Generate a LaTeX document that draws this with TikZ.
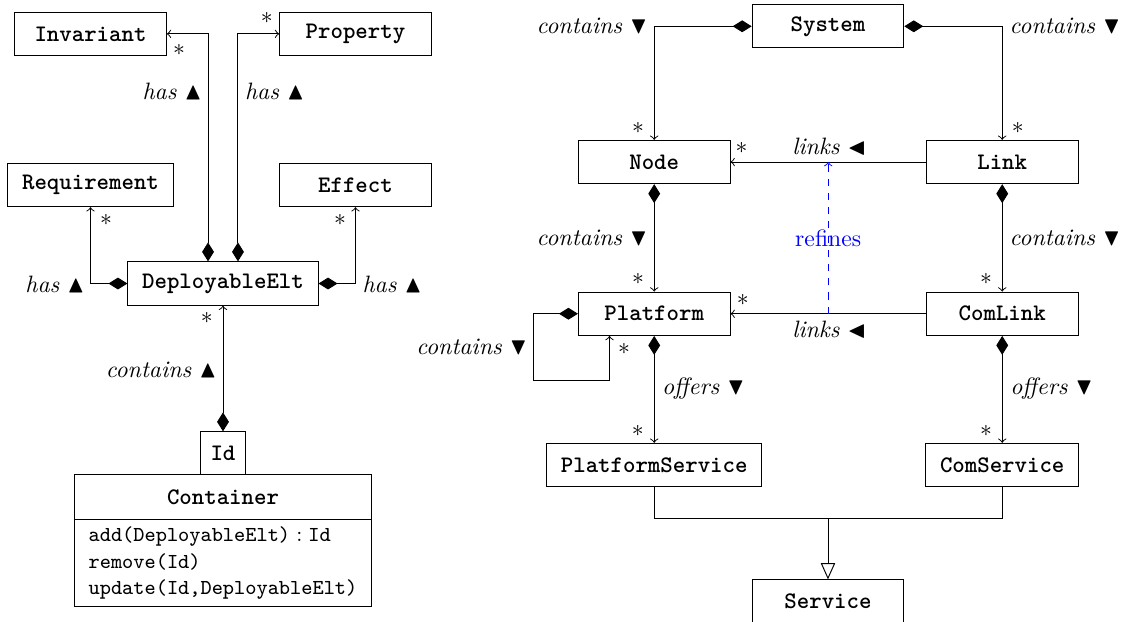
\documentclass[tikz,border=0pt]{standalone}
\usepackage{amsmath}
\usepackage{amssymb}
\usetikzlibrary{arrows.meta}

\tikzset{
  cls/.style={draw, font=\ttfamily\bfseries, minimum width=64pt, minimum height=18.3pt, inner xsep=6pt},
  compo/.style={arrows={Diamond[length=8pt,width=5pt]-to}},
  assoc/.style={-to},
  gener/.style={arrows={-Triangle[open,length=6.8pt,width=6pt]}},
  refine/.style={dashed, blue, -to},
  lbl/.style={inner sep=0pt},
}

\begin{document}
\begin{tikzpicture}
    \useasboundingbox (0,0) rectangle (16.684,9.210);

    % deployable elements
    \node[cls] (inv) at (1.342,8.708) {Invariant};
    \node[cls] (prop) at (5.272,8.708) {Property};
    \node[cls] (req) at (1.342,6.466) {Requirement};
    \node[cls] (eff) at (5.272,6.466) {Effect};
    \node[cls] (dep) at (3.307,5.005) {DeployableElt};
    \node[cls, minimum width=125.7pt, minimum height=18.8pt, outer sep=0pt, anchor=north] (cont) at (3.307,2.170) {Container};
    \node[cls, minimum width=0pt, inner xsep=4.4pt, outer sep=0pt, anchor=south] (id) at (cont.north) {Id};
    \node[draw, font=\small\ttfamily, align=left, minimum width=125.7pt, inner xsep=6pt, outer sep=0pt, anchor=north] (ops) at (cont.south)
        {add(DeployableElt)${}:{}$Id\\remove(Id)\\update(Id,DeployableElt)};

    \draw[compo] ([xshift=-0.222cm]dep.north) |- (inv.east);
    \draw[compo] ([xshift=0.222cm]dep.north) |- (prop.west);
    \draw[compo] (dep.west) -| (req.south);
    \draw[compo] (dep.east) -| (eff.south);
    \draw[compo] (id.north) -- (dep.south);

    \node[lbl] (hasinv) at (2.554,7.850) {\textit{has} $\blacktriangle$};
    \node[lbl] (hasprop) at (4.074,7.850) {\textit{has} $\blacktriangle$};
    \node[lbl] (hasreq) at (0.816,4.998) {\textit{has} $\blacktriangle$};
    \node[lbl] (haseff) at (5.816,4.998) {\textit{has} $\blacktriangle$};
    \node[lbl] (contdep) at (2.391,3.722) {\textit{contains} $\blacktriangle$};
    \node[lbl] (minv) at (2.655,8.468) {$*$};
    \node[lbl] (mprop) at (3.955,8.938) {$*$};
    \node[lbl] (mreq) at (1.572,5.947) {$*$};
    \node[lbl] (meff) at (5.042,5.947) {$*$};
    \node[lbl] (mdep) at (3.065,4.489) {$*$};

    % system
    \node[cls] (sys) at (12.279,8.820) {System};
    \node[cls] (node) at (9.702,6.807) {Node};
    \node[cls] (link) at (14.863,6.807) {Link};
    \node[cls] (plat) at (9.702,4.557) {Platform};
    \node[cls] (clink) at (14.863,4.557) {ComLink};
    \node[cls] (ps) at (9.702,2.314) {PlatformService};
    \node[cls] (cs) at (14.863,2.314) {ComService};
    \node[cls, anchor=north] (serv) at (12.279,0.618) {Service};

    \draw[compo] (sys.west) -| (node.north);
    \draw[compo] (sys.east) -| (link.north);
    \draw[assoc] (link.west) -- coordinate (m1) (node.east);
    \draw[assoc] (clink.west) -- coordinate (m2) (plat.east);
    \draw[compo] (node.south) -- (plat.north);
    \draw[compo] (link.south) -- (clink.north);
    \draw[compo] (plat.west) -- ++(-0.663,0) |- ([xshift=-0.663cm,yshift=-0.667cm]plat.south) -- ([xshift=-0.663cm]plat.south);
    \draw[compo] (plat.south) -- (ps.north);
    \draw[compo] (clink.south) -- (cs.north);
    \coordinate (j) at (12.279,1.523);
    \draw (ps.south) |- (j) -| (cs.south);
    \draw[gener] (j) -- (serv.north);
    \draw[refine] (m2) -- node (rf) {refines} (m1);

    \node[lbl] (consn) at (8.779,8.824) {\textit{contains} $\blacktriangledown$};
    \node[lbl] (consl) at (15.794,8.829) {\textit{contains} $\blacktriangledown$};
    \node[lbl] (conplat) at (8.779,5.676) {\textit{contains} $\blacktriangledown$};
    \node[lbl] (concl) at (15.794,5.676) {\textit{contains} $\blacktriangledown$};
    \node[lbl] (conloop) at (6.995,4.068) {\textit{contains} $\blacktriangledown$};
    \node[lbl] (linkn) at (12.297,7.034) {\textit{links} $\blacktriangleleft$};
    \node[lbl] (linkp) at (12.297,4.316) {\textit{links} $\blacktriangleleft$};
    \node[lbl] (offps) at (10.430,3.451) {\textit{offers} $\blacktriangledown$};
    \node[lbl] (offcs) at (15.594,3.451) {\textit{offers} $\blacktriangledown$};
    \node[lbl] (mnode) at (9.462,7.311) {$*$};
    \node[lbl] (mlink) at (15.093,7.316) {$*$};
    \node[lbl] (mnodel) at (10.999,7.015) {$*$};
    \node[lbl] (mplat) at (9.462,5.072) {$*$};
    \node[lbl] (mclink) at (14.623,5.072) {$*$};
    \node[lbl] (mplatl) at (11.014,4.760) {$*$};
    \node[lbl] (mloop) at (9.254,4.034) {$*$};
    \node[lbl] (mps) at (9.457,2.822) {$*$};
    \node[lbl] (mcs) at (14.623,2.822) {$*$};
\end{tikzpicture}
\end{document}
